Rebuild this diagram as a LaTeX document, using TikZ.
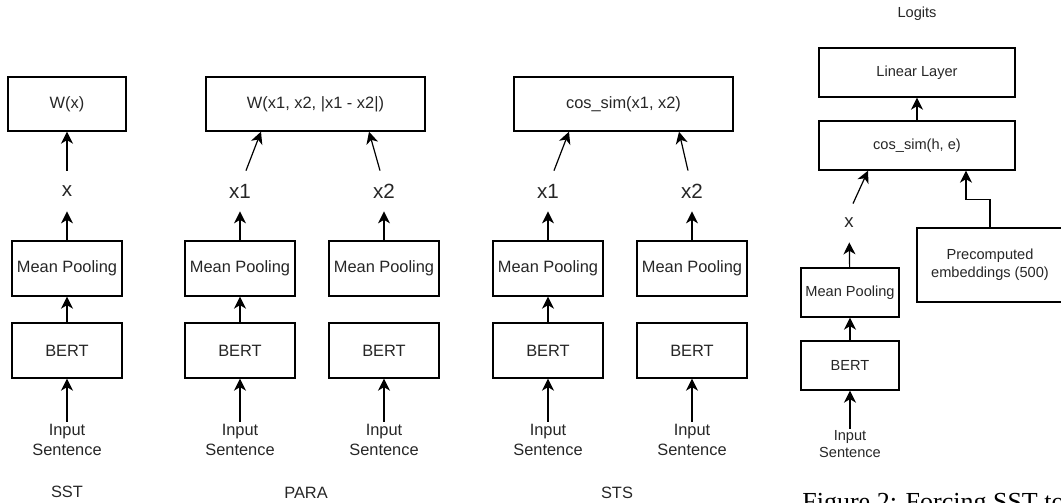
\documentclass[tikz,border=0pt]{standalone}
\usepackage{fontspec}
\setmainfont{Liberation Sans}
\newfontfamily\capfont{Liberation Serif}
\usetikzlibrary{positioning, arrows.meta}

\begin{document}
\begin{tikzpicture}[
    x=0.5pt, y=-0.5pt,
    box/.style={draw, line width=0.7pt, minimum width=55pt, minimum height=27.5pt,
      inner sep=1pt, text=black!85, font=\fontsize{8.2}{10}\selectfont},
    head/.style={box, minimum width=109.5pt, minimum height=27pt},
    sbox/.style={draw, line width=0.7pt, minimum width=49pt, minimum height=24.5pt,
      inner sep=1pt, text=black!85, font=\fontsize{7.3}{9}\selectfont},
    var/.style={minimum height=20pt, inner sep=0pt, text=black!85, font=\fontsize{10.3}{12}\selectfont},
    txt/.style={align=center, inner sep=1pt, text=black!85, font=\fontsize{8.2}{10}\selectfont},
    stxt/.style={align=center, inner sep=1pt, text=black!85, font=\fontsize{7.3}{8.5}\selectfont},
    arr/.style={-{Stealth[length=6pt, width=6pt, inset=1.8pt]}, line width=0.6pt},
  ]
  \path[use as bounding box, clip] (0,0) rectangle (1061,503);

  % SST
  \node[box, minimum width=59pt, minimum height=27pt] (sstTop) at (67,104) {W(x)};
  \node[var] (sstX) at (67,191) {x};
  \node[box] (sstPool) at (67,268.5) {Mean Pooling};
  \node[box] (sstBert) at (67,350.5) {BERT};
  \node[txt] (sstIn) at (67,440) {Input\\Sentence};
  \node[txt] (sstName) at (67,492) {SST};

  \draw[arr] (sstIn) -- (sstBert);
  \draw[arr] (sstBert) -- (sstPool);
  \draw[arr] (sstPool) -- (sstX);
  \draw[arr] (sstX) -- (sstTop);

  % PARA
  \node[head] (paraTop) at (315.5,104) {W(x1, x2, |x1 - x2|)};
  \node[var] (paraXA) at (240,191) {x1};
  \node[var] (paraXB) at (384,191) {x2};
  \node[box] (paraPoolA) at (240,268.5) {Mean Pooling};
  \node[box] (paraPoolB) at (384,268.5) {Mean Pooling};
  \node[box] (paraBertA) at (240,350.5) {BERT};
  \node[box] (paraBertB) at (384,350.5) {BERT};
  \node[txt] (paraInA) at (240,440) {Input\\Sentence};
  \node[txt] (paraInB) at (384,440) {Input\\Sentence};
  \node[txt] (paraName) at (306,493) {PARA};

  \draw[arr] (paraInA) -- (paraBertA);
  \draw[arr] (paraInB) -- (paraBertB);
  \draw[arr] (paraBertA) -- (paraPoolA);
  \draw[arr] (paraPoolA) -- (paraXA);
  \draw[arr] (paraPoolB) -- (paraXB);
  \draw[arr] ([xshift=3pt]paraXA.north) -- ([xshift=-27.25pt]paraTop.south);
  \draw[arr] ([xshift=-2pt]paraXB.north) -- ([xshift=26.75pt]paraTop.south);

  % STS
  \node[head] (stsTop) at (623.5,104) {cos\_sim(x1, x2)};
  \node[var] (stsXA) at (548,191) {x1};
  \node[var] (stsXB) at (692,191) {x2};
  \node[box] (stsPoolA) at (548,268.5) {Mean Pooling};
  \node[box] (stsPoolB) at (692,268.5) {Mean Pooling};
  \node[box] (stsBertA) at (548,350.5) {BERT};
  \node[box] (stsBertB) at (692,350.5) {BERT};
  \node[txt] (stsInA) at (548,440) {Input\\Sentence};
  \node[txt] (stsInB) at (692,440) {Input\\Sentence};
  \node[txt] (stsName) at (617,493) {STS};

  \draw[arr] (stsInA) -- (stsBertA);
  \draw[arr] (stsInB) -- (stsBertB);
  \draw[arr] (stsBertA) -- (stsPoolA);
  \draw[arr] (stsPoolA) -- (stsXA);
  \draw[arr] (stsPoolB) -- (stsXB);
  \draw[arr] ([xshift=3pt]stsXA.north) -- ([xshift=-27.25pt]stsTop.south);
  \draw[arr] ([xshift=-2pt]stsXB.north) -- ([xshift=27.75pt]stsTop.south);

  % SST against precomputed embeddings
  \node[stxt] (logits) at (917,14) {Logits};
  \node[sbox, minimum width=98pt] (linear) at (917,72.5) {Linear Layer};
  \node[sbox, minimum width=98pt] (cos) at (917,145.5) {cos\_sim(h, e)};
  \node[var, minimum height=19pt, font=\fontsize{9.3}{11}\selectfont] (embX) at (849,223) {x};
  \node[sbox] (embPool) at (850,292.5) {Mean Pooling};
  \node[sbox] (embBert) at (850,365.5) {BERT};
  \node[stxt] (embIn) at (850,444.5) {Input\\Sentence};
  \node[sbox, minimum width=73pt, minimum height=37pt, align=center,
    font=\fontsize{7.3}{9}\selectfont] (pre) at (990,265) {Precomputed\\embeddings (500)};

  \draw[arr] (embIn) -- (embBert);
  \draw[arr] (embBert) -- (embPool);
  \draw[arr] (embPool) -- (embX);
  \draw[arr] ([xshift=2pt]embX.north) -- ([xshift=-24.5pt]cos.south);
  \draw[arr] (pre.north) -- ++(0,-28) -| ([xshift=24.5pt]cos.south);
  \draw[arr] (cos) -- (linear);

  \node[anchor=base west, inner sep=0pt, font=\capfont\fontsize{13}{15}\selectfont]
    (caption) at (802,510) {Figure 2: Forcing SST to};
\end{tikzpicture}
\end{document}
